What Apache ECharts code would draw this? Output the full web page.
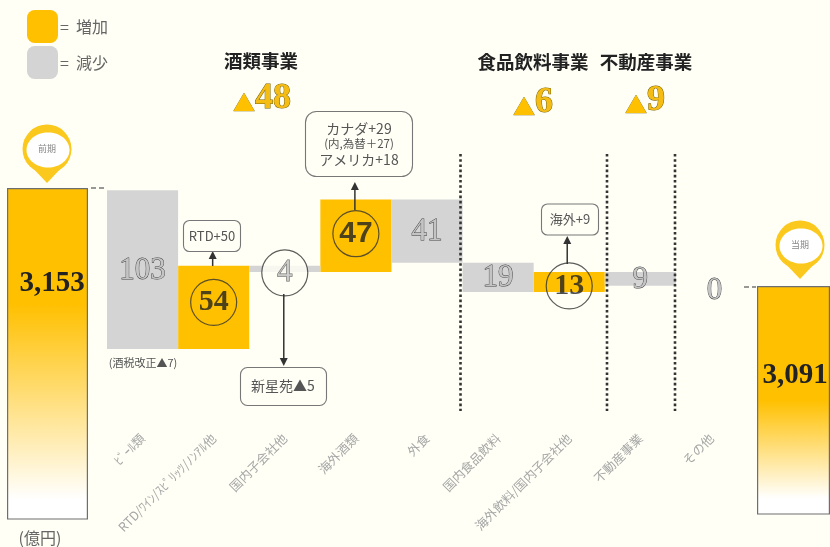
<!DOCTYPE html>
<html lang="ja">
<head>
<meta charset="utf-8">
<style>html,body{margin:0;padding:0;background:#FFFFF6;overflow:hidden}#c{width:830px;height:547px}</style>
<script src="https://cdn.jsdelivr.net/npm/echarts@6/dist/echarts.min.js"></script>
</head>
<body>
<div id="c"></div>
<script>
// 売上の増減内訳(前期→当期)
const categories = ['ﾋﾞｰﾙ類', 'RTD/ﾜｲﾝ/ｽﾋﾟﾘｯﾂ/ﾉﾝｱﾙ他', '国内子会社他', '海外酒類', '外食', '国内食品飲料', '海外飲料/国内子会社他', '不動産事業', 'その他'];
const deltas = [-103, 54, -4, 47, -41, -19, 13, -9, 0];
const previousTotal = 3153;
const currentTotal = 3091;
const circledCategories = [1, 2, 3, 6];

const JP = '"Noto Sans CJK JP", sans-serif';
const SERIF = '"Liberation Serif", serif';
const AMBER = '#FFC000';
const GREY = '#D4D4D4';
const BG = '#FFFFF6';

// 積み上げの透明な土台と増減の上端を順に求める
let running = previousTotal;
const base = [], rise = [], fall = [], centres = [];
deltas.forEach(d => {
  const next = running + d;
  base.push(Math.min(running, next));
  rise.push(d > 0 ? d : '-');
  // 増減ゼロの数字だけ基準線の少し下に置く
  fall.push(d < 0 ? -d : d === 0 ? { value: 0, label: { offset: [3, 5] } } : '-');
  centres.push((running + next) / 2);
  running = next;
});

const outlinedNumber = { fontFamily: SERIF, fontWeight: 'normal', fontSize: 31, color: '#C4C4C4', textBorderColor: '#444', textBorderWidth: 0.9 };

const circleShift = { 1: -5, 2: 4, 3: -2, 6: 4 };
const circleData = circledCategories.map(i => ({
  value: [i, centres[i], Math.abs(deltas[i])],
  symbolOffset: [0, circleShift[i]],
  itemStyle: { color: deltas[i] < 0 ? BG : 'rgba(0,0,0,0)' },
  label: deltas[i] < 0 ? outlinedNumber : { fontFamily: i === 3 ? '"Liberation Sans"' : SERIF }
}));

const endGradient = (solidTo, whiteFrom) => ({
  type: 'linear', x: 0, y: 0, x2: 0, y2: 1,
  colorStops: [
    { offset: 0, color: AMBER }, { offset: solidTo, color: AMBER },
    { offset: whiteFrom, color: '#FFFFFF' }, { offset: 1, color: '#FFFFFF' }
  ]
});

const endBar = (name, axis, value, gradient, labelX, labelY) => ({
  name, type: 'bar', xAxisIndex: axis, yAxisIndex: axis, data: [value], barWidth: '100%', silent: true,
  itemStyle: { color: gradient, borderColor: '#6E6E6E', borderWidth: 1.2 },
  label: {
    show: true, position: [labelX, labelY], align: 'center', verticalAlign: 'middle',
    fontFamily: SERIF, fontWeight: 'bold', fontSize: 29, color: '#222',
    formatter: p => p.value.toLocaleString('en-US')
  }
});

const hiddenX = gi => ({ type: 'category', gridIndex: gi, data: [''], show: false });
const hiddenY = (gi, min, max) => ({ type: 'value', gridIndex: gi, min, max, show: false });

const chart = echarts.init(document.getElementById('c'), null, { renderer: 'canvas' });
chart.setOption({
  animation: false,
  backgroundColor: BG,
  textStyle: { fontFamily: JP },
  legend: {
    data: ['増加', '減少'], orient: 'vertical', left: 27, top: 10, padding: 0,
    itemWidth: 31, itemHeight: 33, itemGap: 3, icon: 'roundRect', selectedMode: false,
    formatter: n => '=  ' + n,
    textStyle: { fontFamily: JP, fontSize: 16, color: '#666', padding: [3, 0, 0, -3] }
  },
  grid: [
    { left: 7, width: 81, top: 188, height: 331 },
    { left: 107, width: 640, top: 87, height: 339 },
    { left: 757, width: 81, top: 286, height: 228 }
  ],
  xAxis: [
    hiddenX(0),
    {
      type: 'category', gridIndex: 1, data: categories,
      axisLine: { show: false }, axisTick: { show: false },
      axisLabel: { interval: 0, rotate: 45, margin: 10, fontSize: 12.5, color: '#A6A6A6', fontFamily: JP, hideOverlap: false }
    },
    hiddenX(2)
  ],
  yAxis: [
    hiddenY(0, 2938, 3153),
    hiddenY(1, 3000, 3220),
    hiddenY(2, 2943, 3091)
  ],
  series: [
    endBar('前期', 0, previousTotal, endGradient(0.35, 0.94), 45, 96),
    endBar('当期', 2, currentTotal, endGradient(0.5, 0.93), 38, 90),
    {
      name: 'base', type: 'bar', stack: 'flow', xAxisIndex: 1, yAxisIndex: 1, data: base,
      barCategoryGap: 0, silent: true, itemStyle: { color: 'rgba(0,0,0,0)' }
    },
    {
      name: '増加', type: 'bar', stack: 'flow', xAxisIndex: 1, yAxisIndex: 1, data: rise,
      barCategoryGap: 0, silent: true, itemStyle: { color: AMBER }
    },
    {
      name: '減少', type: 'bar', stack: 'flow', xAxisIndex: 1, yAxisIndex: 1, data: fall,
      barCategoryGap: 0, silent: true, itemStyle: { color: GREY },
      label: {
        show: true, position: 'inside', offset: [0, 1], ...outlinedNumber,
        formatter: p => (circledCategories.includes(p.dataIndex) ? '' : String(p.value))
      }
    },
    {
      name: 'circles', type: 'scatter', xAxisIndex: 1, yAxisIndex: 1, data: circleData,
      symbolSize: 46, silent: true, z: 5,
      itemStyle: { borderColor: '#333', borderWidth: 1.2 },
      label: {
        show: true, position: 'inside', fontWeight: 'bold', fontSize: 30, color: '#222',
        formatter: p => String(p.value[2])
      }
    }
  ]
});

// 吹き出し・区切り線・見出しなどの注記
const at = i => chart.convertToPixel({ xAxisIndex: 1 }, i);

const arrow = (x, y1, y2) => {
  const dir = y2 > y1 ? 1 : -1;
  return [
    { type: 'line', z: 6, shape: { x1: x, y1, x2: x, y2: y2 - dir * 6 }, style: { stroke: '#333', lineWidth: 1.5 } },
    { type: 'polygon', z: 6, shape: { points: [[x, y2], [x - 4, y2 - dir * 8], [x + 4, y2 - dir * 8]] }, style: { fill: '#333' } }
  ];
};
const box = (x, y, width, height, r) => ({
  type: 'rect', z: 6, shape: { x, y, width, height, r }, style: { fill: BG, stroke: '#777', lineWidth: 1.1 }
});
const text = (x, y, t, fontSize, fill, weight, family) => ({
  type: 'text', z: 7,
  style: { x, y, text: t, align: 'center', verticalAlign: 'middle', fill,
    font: `${weight || 'normal'} ${fontSize}px ${family || JP}` }
});
const divider = x => ({
  type: 'line', z: 4, shape: { x1: x, y1: 154, x2: x, y2: 411 },
  style: { stroke: '#333', lineWidth: 2.6, lineDash: [2.6, 2.6] }
});
const sectionTotal = (x, y, n) => ({
  type: 'text', z: 7,
  style: {
    x, y, align: 'center', verticalAlign: 'middle',
    text: `{t|▲}{n|${n}}`,
    rich: {
      t: { font: `22px ${JP}`, fill: AMBER, stroke: '#7A6A20', lineWidth: 0.6, padding: [8, 0, 0, 0] },
      n: { font: `bold 36px ${SERIF}`, fill: '#F5BC14', stroke: '#7A6200', lineWidth: 1 }
    }
  }
});
const pin = (cx, cy, tipY, label) => ({
  type: 'group',
  children: [
    { type: 'circle', shape: { cx, cy, r: 24.5 }, style: { fill: '#FBC91E' } },
    { type: 'polygon', shape: { points: [[cx - 18, cy + 15], [cx + 18, cy + 15], [cx, tipY]] }, style: { fill: '#FBC91E' } },
    { type: 'ellipse', shape: { cx: cx + 1, cy: cy + 1, rx: 21.5, ry: 17.5 }, style: { fill: '#FFFFFF' } },
    text(cx, cy, label, 9, '#888')
  ]
});
const tick = (x1, x2, y) => ({
  type: 'line', shape: { x1, y1: y, x2, y2: y }, style: { stroke: '#333', lineWidth: 1.2, lineDash: [5, 3] }
});

const rtdX = at(1) - 1, groupX = at(2) - 1, overseasX = at(3) - 1, beverageX = at(6) - 2;

chart.setOption({
  graphic: { elements: [
    divider(460.5), divider(607), divider(675),
    text(261, 61, '酒類事業', 18.5, '#222', 'bold'),
    text(533, 62, '食品飲料事業', 18.5, '#222', 'bold'),
    text(646, 62, '不動産事業', 18.5, '#222', 'bold'),
    sectionTotal(262, 99, 48), sectionTotal(533, 103, 6), sectionTotal(645, 101, 9),
    pin(47, 149, 183, '前期'),
    pin(800, 245, 279, '当期'),
    tick(91, 106, 188), tick(744, 756, 287),
    text(143, 363, '(酒税改正▲7)', 11, '#555'),
    text(40, 538, '(億円)', 16, '#666'),
    ...arrow(rtdX, 266, 251), box(183.5, 220.5, 57, 31, 6), text(212, 236, 'RTD+50', 13, '#555'),
    ...arrow(overseasX, 210, 182), box(305.5, 111.5, 107, 65, 11),
    text(359, 129, 'カナダ+29', 14, '#555'), text(359, 144, '(内,為替＋27)', 11.5, '#555'), text(359, 160, 'アメリカ+18', 14, '#555'),
    ...arrow(groupX, 294, 366), box(240.5, 367.5, 86, 38, 7), text(283, 386, '新星苑▲5', 14, '#555'),
    ...arrow(beverageX, 264, 236), box(541.5, 204, 57, 31, 6), text(570, 219.5, '海外+9', 13, '#555')
  ] }
});
</script>
</body>
</html>
